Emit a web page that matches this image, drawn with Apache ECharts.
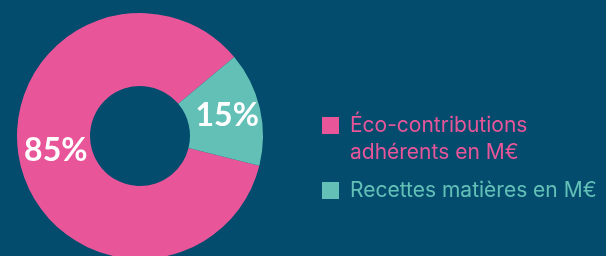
<!DOCTYPE html>
<html>
<head>
<meta charset="utf-8">
<script src="https://cdn.jsdelivr.net/npm/echarts@6/dist/echarts.min.js"></script>
<style>
    html, body {margin: 0; padding: 0; background: #034c6e;}
    #chart {width: 606px; height: 256px;}
</style>
</head>
<body>
<div id="chart"></div>
<script>
var categories = ['Éco-contributions\nadhérents en M€', 'Recettes matières en M€'];
var shares = [85, 15];
var colors = ['#e85599', '#63c0b7'];

var chart = echarts.init(document.getElementById('chart'));

var pieData = categories.map(function (name, i) {
    return {name: name, value: shares[i], itemStyle: {color: colors[i]}};
});

var legendData = categories.map(function (name, i) {
    return {name: name, textStyle: {color: colors[i]}};
});

chart.setOption({
    backgroundColor: '#034c6e',
    animation: false,
    legend: {
        orient: 'vertical',
        left: 322,
        top: 85,
        padding: 0,
        itemWidth: 17,
        itemHeight: 17,
        itemGap: 11,
        icon: 'rect',
        selectedMode: false,
        formatter: function (name) {
            var lines = name.split('\n').map(function (s) {
                return '{t|' + s + '}';
            });
            // empty first line so a two-line label starts level with its square
            if (lines.length > 1) {
                lines.unshift('{g| }');
            }
            return lines.join('\n');
        },
        textStyle: {
            fontFamily: 'Inter',
            fontSize: 21,
            lineHeight: 27,
            rich: {
                t: {fontFamily: 'Inter', fontSize: 21, lineHeight: 27, padding: [0, 0, 0, 6]},
                g: {fontFamily: 'Inter', fontSize: 21, lineHeight: 27}
            }
        },
        data: legendData
    },
    series: [
        {
            type: 'pie',
            center: [140, 136],
            radius: [50, 123],
            startAngle: -14,
            clockwise: true,
            silent: true,
            label: {
                show: true,
                position: 'inside',
                color: '#ffffff',
                fontFamily: 'Lato',
                fontWeight: 'bold',
                fontSize: 32,
                formatter: '{c}%'
            },
            // the big label sits a bit higher in the original
            labelLayout: function (params) {
                return params.dataIndex === 0 ? {dx: 3, dy: -5} : {};
            },
            labelLine: {show: false},
            itemStyle: {borderWidth: 0},
            data: pieData
        }
    ]
});
</script>
</body>
</html>
